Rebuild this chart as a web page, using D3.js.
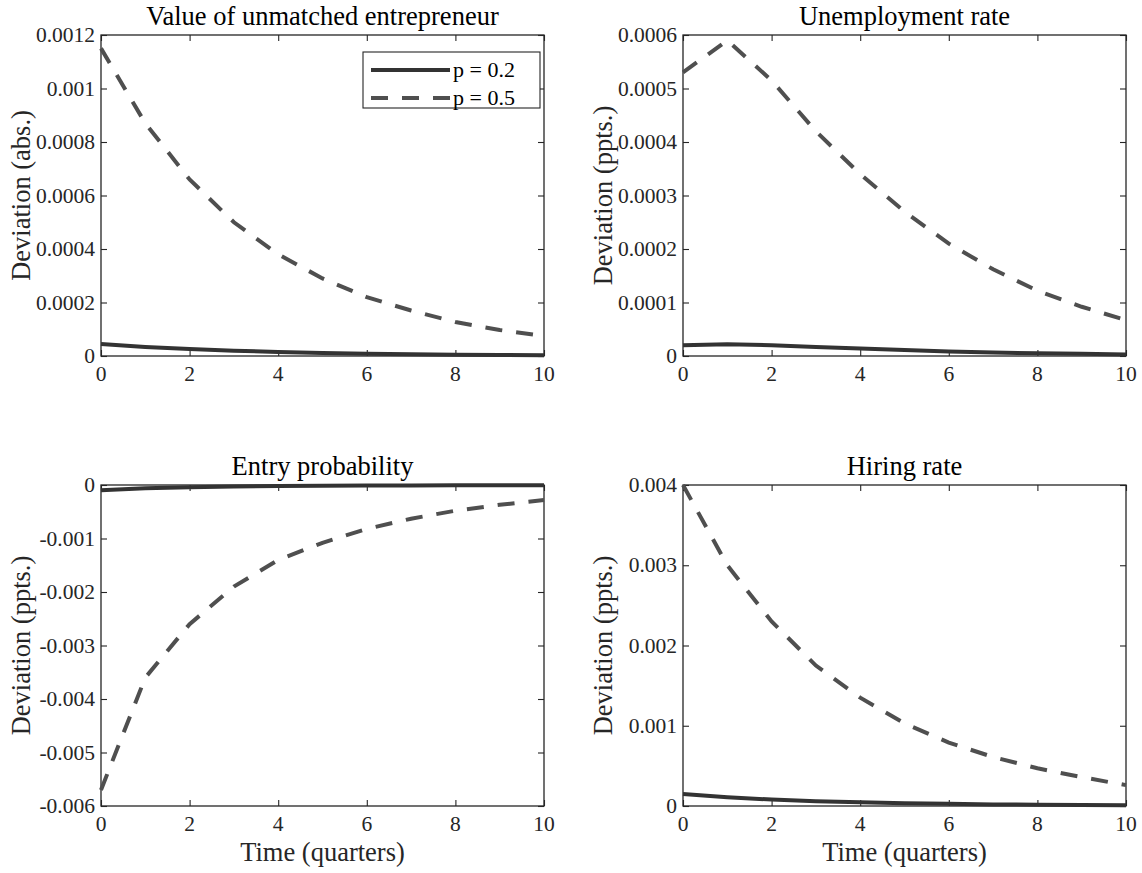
<!DOCTYPE html>
<html>
<head>
<meta charset="utf-8">
<script src="https://cdn.jsdelivr.net/npm/d3@7"></script>
<style>
body { margin: 0; background: #fff; }
text { font-family: "Liberation Serif", "Times New Roman", serif; }
</style>
</head>
<body>
<svg id="fig" width="1142" height="873"></svg>
<script>
// time axis (quarters)
var quarters = [0, 1, 2, 3, 4, 5, 6, 7, 8, 9, 10];
var xTicks = [0, 2, 4, 6, 8, 10];
var seriesNames = ["p = 0.2", "p = 0.5"];

// Value of unmatched entrepreneur
var valueLow  = [0.000045, 0.000034, 0.000026, 0.00002, 0.000015, 0.000011, 0.0000085, 0.0000065, 0.000005, 0.0000038, 0.000003];
var valueHigh = [0.00115, 0.00087, 0.00066, 0.0005, 0.00038, 0.00029, 0.00022, 0.00017, 0.000127, 0.000097, 0.000075];
var valueTicks = [0, 0.0002, 0.0004, 0.0006, 0.0008, 0.001, 0.0012];

// Unemployment rate
var unempLow  = [0.00002, 0.000022, 0.00002, 0.000017, 0.000014, 0.000011, 0.0000085, 0.0000065, 0.000005, 0.000004, 0.000003];
var unempHigh = [0.00053, 0.00059, 0.000515, 0.00042, 0.00034, 0.00027, 0.00021, 0.000162, 0.000122, 0.000092, 0.000067];
var unempTicks = [0, 0.0001, 0.0002, 0.0003, 0.0004, 0.0005, 0.0006];

// Entry probability
var entryLow  = [-0.0001, -0.00006, -0.00004, -0.00003, -0.00002, -0.000015, -0.00001, -0.000007, -0.000005, -0.000004, -0.000003];
var entryHigh = [-0.0057, -0.0036, -0.0026, -0.0019, -0.0014, -0.00108, -0.00082, -0.00063, -0.00048, -0.00037, -0.00028];
var entryTicks = [-0.006, -0.005, -0.004, -0.003, -0.002, -0.001, 0];

// Hiring rate
var hireLow  = [0.00015, 0.00011, 0.00008, 0.00006, 0.000046, 0.000035, 0.000027, 0.00002, 0.000015, 0.000011, 0.000008];
var hireHigh = [0.004, 0.003, 0.0023, 0.00175, 0.00135, 0.00103, 0.00079, 0.00061, 0.00047, 0.00036, 0.00026];
var hireTicks = [0, 0.001, 0.002, 0.003, 0.004];

var svg = d3.select('#fig');
var axisColor = "#262626";
var fmt = function(d) { return String(+d.toFixed(6)); };

function DrawPanel(left, top, title, low, high, yTicks, ylab, showX, showLegend)
{
    var w = 443, h = 321;
    var x = d3.scaleLinear().domain([0, 10]).range([left, left + w]);
    var y = d3.scaleLinear().domain([yTicks[0], yTicks[yTicks.length - 1]]).range([top + h, top]);

    var g = svg.append("g");

    // box
    g.append("rect")
    .attr("x", left).attr("y", top)
    .attr("width", w).attr("height", h)
    .style("fill", "none")
    .style("stroke", axisColor)
    .style("stroke-width", 1.3);

    // ticks inward on all sides
    var tl = 6;
    var bottomAx = d3.axisBottom(x).tickValues(xTicks).tickSize(-tl).tickFormat("");
    var topAx = d3.axisTop(x).tickValues(xTicks).tickSize(-tl).tickFormat("");
    var leftAx = d3.axisLeft(y).tickValues(yTicks).tickSize(-tl).tickFormat("");
    var rightAx = d3.axisRight(y).tickValues(yTicks).tickSize(-tl).tickFormat("");
    [[bottomAx, "translate(0," + (top + h) + ")"], [topAx, "translate(0," + top + ")"],
     [leftAx, "translate(" + left + ",0)"], [rightAx, "translate(" + (left + w) + ",0)"]].forEach(function(a) {
        var ax = g.append("g").attr("transform", a[1]).call(a[0]);
        ax.select(".domain").remove();
        ax.selectAll("line").style("stroke", axisColor).style("stroke-width", 1.1);
    });

    // tick labels
    g.selectAll(".xlab").data(xTicks).enter().append("text")
    .attr("x", function(d) { return x(d); })
    .attr("y", top + h + 25)
    .attr("text-anchor", "middle")
    .style("font-size", "21.5px")
    .style("fill", axisColor)
    .text(function(d) { return d; });

    g.selectAll(".ylab").data(yTicks).enter().append("text")
    .attr("x", left - 6)
    .attr("y", function(d) { return y(d); })
    .attr("dy", "0.33em")
    .attr("text-anchor", "end")
    .style("font-size", "21.5px")
    .style("fill", axisColor)
    .text(fmt);

    // title and labels
    g.append("text")
    .attr("x", left + w / 2).attr("y", top - 10)
    .attr("text-anchor", "middle")
    .style("font-size", "26.5px")
    .style("fill", "#000")
    .text(title);

    g.append("text")
    .attr("transform", "translate(" + (left - 71) + "," + (top + h / 2) + ") rotate(-90)")
    .attr("text-anchor", "middle")
    .style("font-size", "26.5px")
    .style("fill", axisColor)
    .text(ylab);

    if (showX) {
        g.append("text")
        .attr("x", left + w / 2).attr("y", top + h + 55)
        .attr("text-anchor", "middle")
        .style("font-size", "26.5px")
        .style("fill", axisColor)
        .text("Time (quarters)");
    }

    var line = d3.line()
    .x(function(d, i) { return x(quarters[i]); })
    .y(function(d) { return y(d); });

    g.append("path").datum(high)
    .attr("d", line)
    .style("fill", "none")
    .style("stroke", "#4f4f4f")
    .style("stroke-width", 4)
    .style("stroke-dasharray", "17,14");

    g.append("path").datum(low)
    .attr("d", line)
    .style("fill", "none")
    .style("stroke", "#333")
    .style("stroke-width", 4);

    if (showLegend) {
        var lg = g.append("g");
        lg.append("rect")
        .attr("x", 363).attr("y", 52)
        .attr("width", 177).attr("height", 56)
        .style("fill", "#fff")
        .style("stroke", axisColor)
        .style("stroke-width", 1.1);

        var rows = [70, 98];
        seriesNames.forEach(function(name, i) {
            lg.append("line")
            .attr("x1", 371).attr("x2", 450)
            .attr("y1", rows[i]).attr("y2", rows[i])
            .style("stroke", i == 0 ? "#333" : "#4f4f4f")
            .style("stroke-width", 4)
            .style("stroke-dasharray", i == 0 ? null : "17,14");

            lg.append("text")
            .attr("x", 453).attr("y", rows[i])
            .attr("dy", "0.33em")
            .style("font-size", "22px")
            .style("fill", "#000")
            .text(name);
        });
    }
}

DrawPanel(101, 35, "Value of unmatched entrepreneur", valueLow, valueHigh, valueTicks, "Deviation (abs.)", false, true);
DrawPanel(683, 35, "Unemployment rate", unempLow, unempHigh, unempTicks, "Deviation (ppts.)", false, false);
DrawPanel(101, 485, "Entry probability", entryLow, entryHigh, entryTicks, "Deviation (ppts.)", true, false);
DrawPanel(683, 485, "Hiring rate", hireLow, hireHigh, hireTicks, "Deviation (ppts.)", true, false);
</script>
</body>
</html>
